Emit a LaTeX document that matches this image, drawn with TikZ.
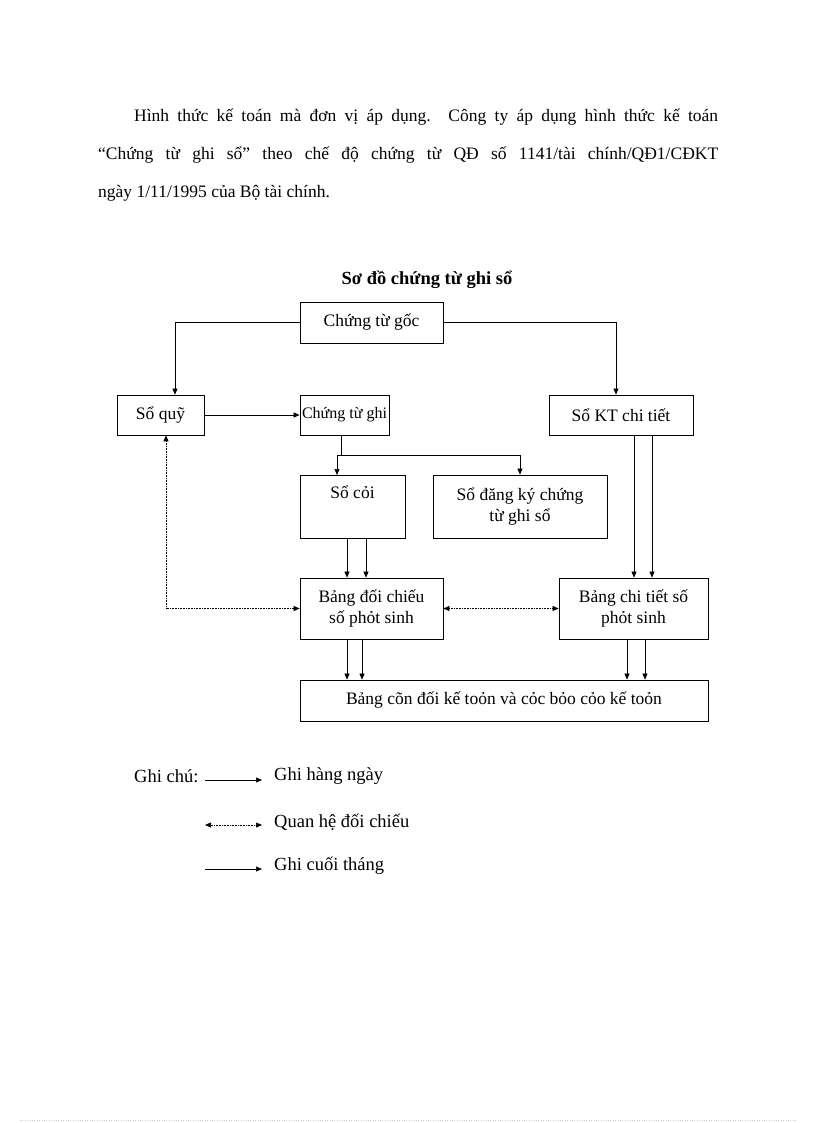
\documentclass[tikz,border=0pt]{standalone}
\usepackage{fontspec}
\setmainfont{Liberation Serif}
\usetikzlibrary{arrows.meta}
\begin{document}
\begin{tikzpicture}[x=1pt,y=-1pt,
  box/.style={draw,thick,inner sep=2pt,align=center,font=\fontsize{17.5}{21}\selectfont},
  ar/.style={-{Triangle[length=6pt,width=5pt]},semithick},
  dar/.style={{Triangle[length=6pt,width=5pt]}-{Triangle[length=6pt,width=5pt]},densely dotted,semithick},
  lg/.style={anchor=west,font=\fontsize{18.5}{21}\selectfont}]
\useasboundingbox (0,0) rectangle (816,1123);
\node[anchor=north west,inner sep=0,text width=620pt,align=justify,font=\fontsize{17.5}{38}\selectfont] (para) at (98,109)
 {\hspace*{36pt}Hình thức kế toán mà đơn vị áp dụng. Công ty áp dụng hình thức kế toán\linebreak
 “Chứng từ ghi sổ” theo chế độ chứng từ QĐ số 1141/tài chính/QĐ1/CĐKT\linebreak
 ngày 1/11/1995 của Bộ tài chính.};
\node[font=\bfseries\fontsize{18.5}{21}\selectfont] (title) at (427,280) {Sơ đồ chứng từ ghi sổ};
\node[box,minimum width=143pt,minimum height=41pt] (ctg) at (371.5,322.5) {Chứng từ gốc};
\node[box,minimum width=87pt,minimum height=40pt] (sq) at (160.5,415) {Sổ quỹ};
\node[box,minimum width=89pt,minimum height=40pt,inner sep=0pt,font=\fontsize{16}{19}\selectfont] (ctghi) at (344.5,415) {Chứng từ ghi};
\node[box,minimum width=144pt,minimum height=40pt] (skt) at (621,415) {Sổ KT chi tiết};
\node[box,minimum width=105pt,minimum height=63pt,anchor=north,text depth=30pt] (sc) at (352.5,475) {Sổ cỏi};
\node[box,minimum width=174pt,minimum height=63pt] (sdk) at (520,506.5) {Sổ đăng ký chứng\\từ ghi sổ};
\node[box,minimum width=143pt,minimum height=61pt] (bdc) at (371.5,608.5) {Bảng đối chiếu\\số phỏt sinh};
\node[box,minimum width=149pt,minimum height=61pt] (bct) at (633.5,608.5) {Bảng chi tiết số\\phỏt sinh};
\node[box,minimum width=408pt,minimum height=41pt] (bcd) at (504,700.5) {Bảng cõn đối kế toỏn và cỏc bỏo cỏo kế toỏn};
\draw[ar] (ctg.west) -| (sq.north -| 175,0);
\draw[ar] (ctg.east) -| (skt.north -| 616,0);
\draw[ar] (sq.east) -- (ctghi.west);
\coordinate (j) at (341,455);
\draw[semithick] (ctghi.south -| j) -- (j);
\draw[ar] (j) -| (sc.north -| 337,0);
\draw[ar] (j) -| (sdk.north -| 520,0);
\foreach \x in {347,366} \draw[ar] (sc.south -| \x,0) -- (bdc.north -| \x,0);
\foreach \x in {634,652} \draw[ar] (skt.south -| \x,0) -- (bct.north -| \x,0);
\foreach \x in {347,362} \draw[ar] (bdc.south -| \x,0) -- (bcd.north -| \x,0);
\foreach \x in {627,645} \draw[ar] (bct.south -| \x,0) -- (bcd.north -| \x,0);
\draw[dar] (sq.south -| 166,0) |- (bdc.west);
\draw[dar] (bdc.east) -- (bct.west);
\node[lg,inner sep=0] (gc) at (134,776) {Ghi chú:};
\coordinate (a1) at (205,780); \coordinate (b1) at (262,780);
\draw[ar] (a1) -- (b1);
\node[lg,inner sep=0] (t1) at (274,776) {Ghi hàng ngày};
\coordinate (a2) at (205,825); \coordinate (b2) at (262,825);
\draw[dar] (a2) -- (b2);
\node[lg,inner sep=0] (t2) at (274,822) {Quan hệ đối chiếu};
\coordinate (a3) at (205,869); \coordinate (b3) at (262,869);
\draw[ar] (a3) -- (b3);
\node[lg,inner sep=0] (t3) at (274,866) {Ghi cuối tháng};
\coordinate (l1) at (20,1120); \coordinate (l2) at (796,1120);
\draw[gray!40,dotted] (l1) -- (l2);
\end{tikzpicture}
\end{document}
